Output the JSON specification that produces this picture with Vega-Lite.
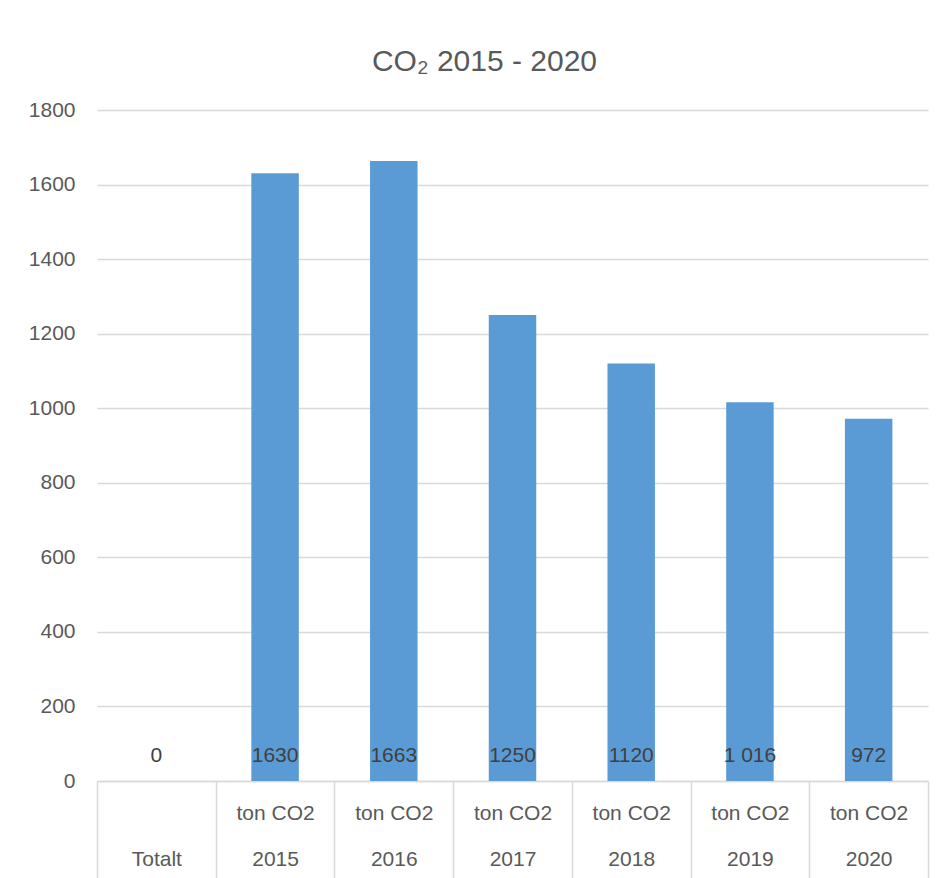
{
  "$schema": "https://vega.github.io/schema/vega-lite/v6.json",
  "width": 831,
  "height": 671,
  "autosize": {"type": "none"},
  "padding": {"left": 97, "top": 110, "right": 18, "bottom": 97},
  "background": "white",
  "title": {
    "text": "CO₂ 2015 - 2020",
    "font": "Liberation Sans",
    "fontSize": 30,
    "fontWeight": "normal",
    "color": "#595959",
    "anchor": "middle",
    "dx": -28,
    "offset": 22
  },
  "data": {
    "values": [
      {"kat": "Totalt", "verdi": 0, "etikett": "0"},
      {"kat": "ton CO2 2015", "verdi": 1630, "etikett": "1630"},
      {"kat": "ton CO2 2016", "verdi": 1663, "etikett": "1663"},
      {"kat": "ton CO2 2017", "verdi": 1250, "etikett": "1250"},
      {"kat": "ton CO2 2018", "verdi": 1120, "etikett": "1120"},
      {"kat": "ton CO2 2019", "verdi": 1016, "etikett": "1 016"},
      {"kat": "ton CO2 2020", "verdi": 972, "etikett": "972"}
    ]
  },
  "encoding": {
    "x": {
      "field": "kat",
      "type": "nominal",
      "sort": null,
      "scale": {"paddingInner": 0, "paddingOuter": 0},
      "axis": {
        "title": null,
        "labelAngle": 0,
        "labelFont": "Liberation Sans",
        "labelFontSize": 21,
        "labelColor": "#595959",
        "labelBaseline": "alphabetic",
        "labelLineHeight": 46,
        "labelPadding": -59,
        "labelExpr": "datum.value == 'Totalt' ? [' ', 'Totalt'] : (isString(datum.value) ? ['ton CO2', substring(datum.value, 8)] : '')",
        "tickBand": "extent",
        "tickSize": 97,
        "tickColor": "#d9d9d9",
        "tickWidth": 1.5,
        "domainColor": "#d9d9d9",
        "domainWidth": 1.5,
        "grid": false
      }
    },
    "y": {
      "field": "verdi",
      "type": "quantitative",
      "scale": {"domain": [0, 1800]},
      "axis": {
        "title": null,
        "format": "d",
        "values": [0, 200, 400, 600, 800, 1000, 1200, 1400, 1600, 1800],
        "labelFont": "Liberation Sans",
        "labelFontSize": 21,
        "labelColor": "#595959",
        "labelPadding": 22,
        "ticks": false,
        "domain": false,
        "gridColor": "#d9d9d9",
        "gridWidth": 1.5
      }
    }
  },
  "layer": [
    {"mark": {"type": "bar", "color": "#5b9bd5", "width": {"band": 0.4}}},
    {
      "mark": {
        "type": "text",
        "font": "Liberation Sans",
        "fontSize": 21,
        "color": "#404040",
        "baseline": "alphabetic",
        "dy": -19
      },
      "encoding": {
        "y": {"datum": 0},
        "text": {"field": "etikett"}
      }
    }
  ],
  "config": {"view": {"stroke": null}}
}
